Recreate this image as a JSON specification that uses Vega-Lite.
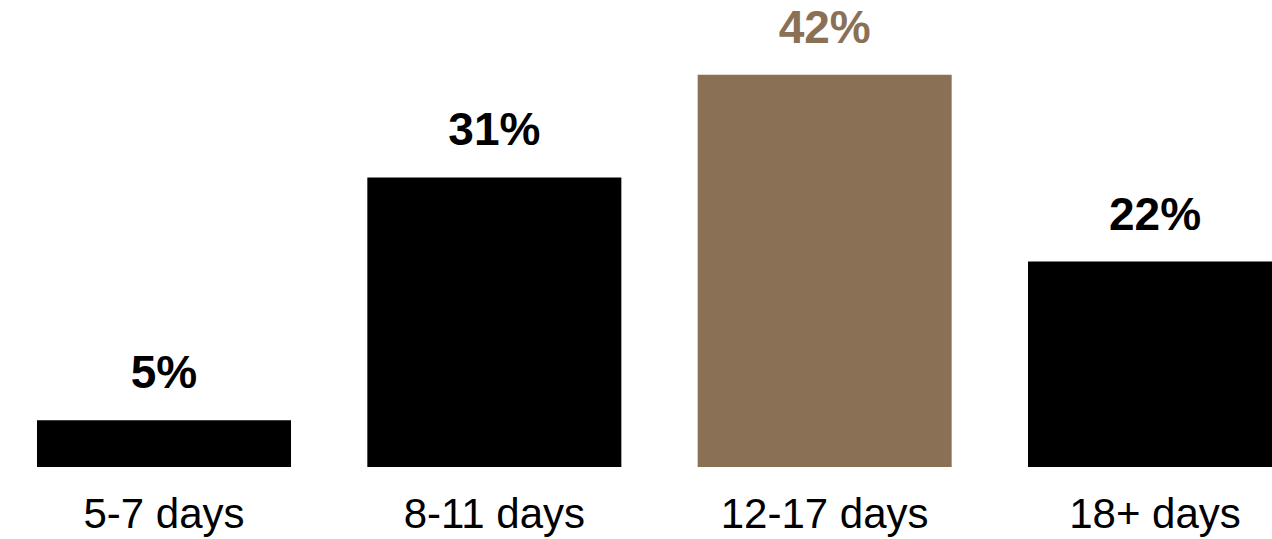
{
  "$schema": "https://vega.github.io/schema/vega-lite/v6.json",
  "autosize": {"type": "none"},
  "padding": {"left": 0, "top": 0, "right": 0, "bottom": 72},
  "width": 1319,
  "height": 467,
  "background": "white",
  "data": {"values": [
    {"duration": "5-7 days", "share": 5, "label": "5%"},
    {"duration": "8-11 days", "share": 31, "label": "31%"},
    {"duration": "12-17 days", "share": 42, "label": "42%"},
    {"duration": "18+ days", "share": 22, "label": "22%"}
  ]},
  "config": {"view": {"stroke": null}, "font": "Liberation Sans"},
  "encoding": {
    "x": {
      "field": "duration", "type": "nominal", "sort": null,
      "scale": {"paddingInner": 0.231, "paddingOuter": 0.112},
      "axis": {"title": null, "ticks": false, "domain": false, "labelAngle": 0,
               "labelFontSize": 42, "labelColor": "black", "labelFont": "Liberation Sans",
               "labelBaseline": "alphabetic", "labelPadding": 60, "labelLimit": 500}
    },
    "y": {"field": "share", "type": "quantitative", "scale": {"domain": [0, 50], "nice": false}, "axis": null},
    "color": {"field": "duration", "type": "nominal",
      "scale": {"domain": ["5-7 days", "8-11 days", "12-17 days", "18+ days"],
                "range": ["#000000", "#000000", "#8A7055", "#000000"]},
      "legend": null}
  },
  "layer": [
    {"mark": {"type": "bar"}},
    {"mark": {"type": "text", "fontSize": 46, "fontWeight": "bold", "baseline": "alphabetic", "dy": -32, "font": "Liberation Sans"},
     "encoding": {"text": {"field": "label"}}}
  ]
}
